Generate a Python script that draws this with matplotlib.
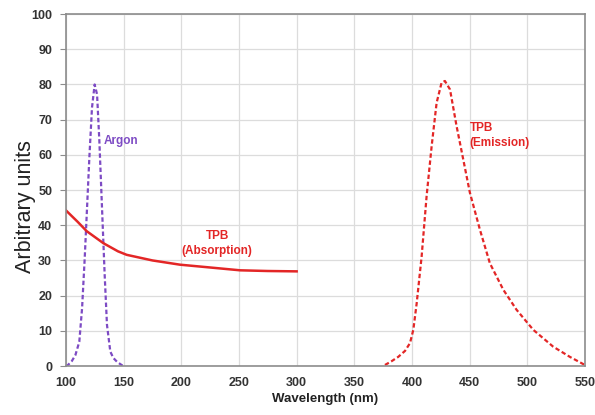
import matplotlib.pyplot as plt

plt.rcParams['font.family'] = ['Liberation Sans', 'DejaVu Sans']

# Argon scintillation (dashed purple)
argon_x = [100, 101.7, 105, 108.1, 111.5, 113.9, 116.2, 118.2, 120.2, 122.5, 124.8,
           126.9, 128.9, 131.2, 133.5, 135.5, 138.4, 141, 144.2, 148.6, 150]
argon_y = [0, 0.3, 1.4, 3.1, 6.9, 16.4, 30.7, 44.9, 59.1, 73.4, 80,
           77.2, 63.9, 44.9, 25.9, 11.7, 4.1, 2.3, 1.2, 0.2, 0]

# TPB absorption (solid red)
abs_x = [100, 110, 118, 132.4, 145, 152.6, 175, 198.8, 225, 250.9, 275, 300]
abs_y = [44.2, 41, 38.3, 34.9, 32.6, 31.6, 30, 28.8, 28, 27.2, 27, 26.9]

# TPB emission (dashed red)
em_x = [376.6, 382, 388.1, 394, 398.3, 401.2, 404.1, 408.4, 412.7, 417.1, 421.4, 425.7,
        428.6, 433, 438.7, 444.5, 450.3, 459, 467.6, 479.2, 490.7, 505.2, 522.5, 537, 550]
em_y = [0.3, 1.3, 2.6, 4.3, 6.5, 10.3, 17.8, 31.1, 48.2, 62.5, 74.8, 80.5,
        81, 78.6, 68.2, 58.7, 49.2, 38.7, 29.2, 21.7, 16, 10.3, 5.5, 2.6, 0.3]

xticks = list(range(100, 551, 50))
yticks = list(range(0, 101, 10))

purple = '#7d4bc4'
red = '#e32626'
gray = '#8c8c8c'

fig = plt.figure(figsize=(5.95, 4.15), dpi=100)
ax = fig.add_axes([0.111, 0.118, 0.872, 0.848])

ax.plot(argon_x, argon_y, color=purple, lw=1.6, ls=(0, (2, 1.2)))
ax.plot(abs_x, abs_y, color=red, lw=1.8)
ax.plot(em_x, em_y, color=red, lw=1.6, ls=(0, (2, 1.2)))

ax.text(147.7, 64, 'Argon', color=purple, fontsize=8.5, fontweight='bold',
        ha='center', va='center')
ax.text(231, 34.8, 'TPB\n(Absorption)', color=red, fontsize=8.5, fontweight='bold',
        ha='center', va='center', linespacing=1.25)
ax.text(450, 65.5, 'TPB\n(Emission)', color=red, fontsize=8.5, fontweight='bold',
        ha='left', va='center', linespacing=1.25)

ax.set_xlim(100, 550)
ax.set_ylim(0, 100)
ax.set_xticks(xticks)
ax.set_yticks(yticks)
ax.grid(True, color='#dcdcdc', lw=0.9)
ax.set_axisbelow(True)
for s in ax.spines.values():
    s.set_color(gray)
    s.set_linewidth(1.2)
ax.tick_params(axis='y', direction='out', length=4, color=gray, labelsize=9,
               labelcolor='#333333', pad=6)
ax.tick_params(axis='x', direction='out', length=0, pad=8, labelsize=9,
               labelcolor='#333333')
for lab in ax.get_xticklabels() + ax.get_yticklabels():
    lab.set_fontweight('bold')

ax.set_xlabel('Wavelength (nm)', fontsize=9.5, fontweight='bold', color='#222222', labelpad=3)
ax.set_ylabel('Arbitrary units', fontsize=15.5, color='#222222')
ax.yaxis.set_label_coords(-0.058, 0.453)

fig.savefig('out.png', dpi=100)
